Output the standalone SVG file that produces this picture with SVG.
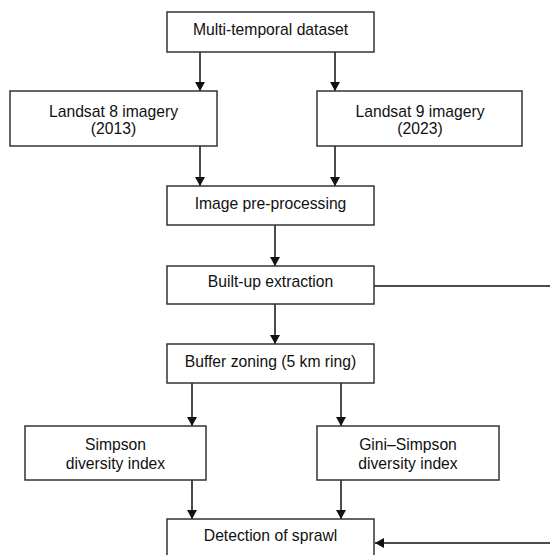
<svg xmlns="http://www.w3.org/2000/svg" width="550" height="555" viewBox="0 0 550 555">
<defs>
<marker id="ah" viewBox="0 0 9 10" refX="9" refY="5" markerWidth="9" markerHeight="10" markerUnits="userSpaceOnUse" orient="auto">
<path d="M0,0 L9,5 L0,10 z" fill="#111"/>
</marker>
<style>
.box{fill:#fff;stroke:#333;stroke-width:1.5}
.t{font-family:"Liberation Sans",Arial,sans-serif;font-size:15.7px;fill:#111;text-anchor:middle}
.c{stroke:#111;stroke-width:1.5;fill:none}
.a{marker-end:url(#ah)}
</style>
</defs>
<rect width="550" height="555" fill="#fff"/>
<g id="connectors">
<line class="c a" x1="200" y1="52" x2="200" y2="91"/>
<line class="c a" x1="335" y1="52" x2="335" y2="91"/>
<line class="c a" x1="200" y1="146" x2="200" y2="186"/>
<line class="c a" x1="335" y1="146" x2="335" y2="186"/>
<line class="c a" x1="275" y1="225" x2="275" y2="266"/>
<line class="c a" x1="275" y1="304" x2="275" y2="344"/>
<line class="c a" x1="192" y1="383" x2="192" y2="426"/>
<line class="c a" x1="341" y1="383" x2="341" y2="426"/>
<line class="c a" x1="192" y1="480" x2="192" y2="519"/>
<line class="c a" x1="341" y1="480" x2="341" y2="519"/>
<line class="c" x1="374" y1="286" x2="550" y2="286"/>
<line class="c a" x1="550" y1="543" x2="375" y2="543"/>
</g>
<g id="n1"><rect class="box" x="167" y="12" width="207" height="40"/><text class="t" x="270.5" y="35">Multi-temporal dataset</text></g>
<g id="n2"><rect class="box" x="10" y="91" width="207" height="55"/><text class="t" x="113.5" y="116.5">Landsat 8 imagery</text><text class="t" x="113.5" y="134">(2013)</text></g>
<g id="n3"><rect class="box" x="317" y="91" width="205" height="55"/><text class="t" x="420" y="116.5">Landsat 9 imagery</text><text class="t" x="420" y="134">(2023)</text></g>
<g id="n4"><rect class="box" x="167" y="186" width="207" height="39"/><text class="t" x="270.5" y="209">Image pre-processing</text></g>
<g id="n5"><rect class="box" x="167" y="266" width="207" height="38"/><text class="t" x="270.5" y="287">Built-up extraction</text></g>
<g id="n6"><rect class="box" x="167" y="344" width="207" height="39"/><text class="t" x="270.5" y="367">Buffer zoning (5 km ring)</text></g>
<g id="n7"><rect class="box" x="25" y="426" width="181" height="54"/><text class="t" x="115.5" y="450">Simpson</text><text class="t" x="115.5" y="469">diversity index</text></g>
<g id="n8"><rect class="box" x="317" y="426" width="182" height="54"/><text class="t" x="408" y="450">Gini–Simpson</text><text class="t" x="408" y="469">diversity index</text></g>
<g id="n9"><rect class="box" x="167" y="519" width="207" height="50"/><text class="t" x="270.5" y="541">Detection of sprawl</text></g>
</svg>
